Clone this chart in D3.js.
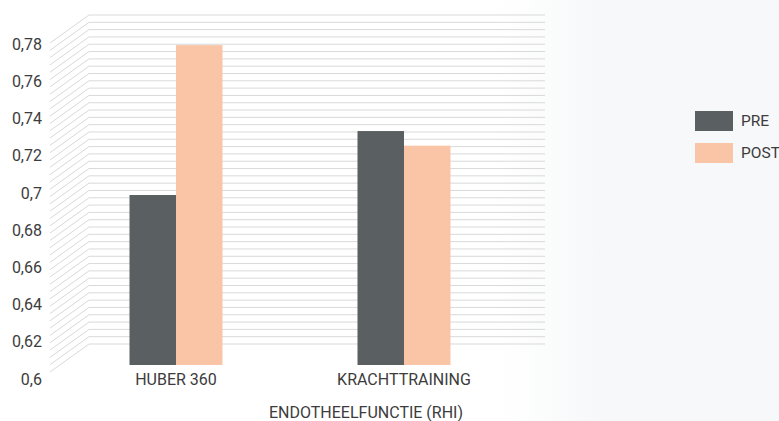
<!DOCTYPE html>
<html><head><meta charset="utf-8">
<script src="https://cdn.jsdelivr.net/npm/d3@7"></script>
<style>body{margin:0;background:#fff;overflow:hidden}</style></head>
<body><svg id="c" width="779" height="421"></svg>
<script>
const categories = ["HUBER 360", "KRACHTTRAINING"];
const seriesNames = ["PRE", "POST"];
const preValues = [0.693, 0.728];
const postValues = [0.775, 0.72];
const tickValues = [0.6, 0.62, 0.64, 0.66, 0.68, 0.7, 0.72, 0.74, 0.76, 0.78];
const tickLabels = ["0,6", "0,62", "0,64", "0,66", "0,68", "0,7", "0,72", "0,74", "0,76", "0,78"];
const gridValues = d3.range(0, 46).map(i => +(0.6 + i * 0.004).toFixed(3));
const axisTitle = "ENDOTHEELFUNCTIE (RHI)";
const colors = ["#5a5f61", "#f9c5a6"];

const svg = d3.select("#c");
const font = "Roboto, 'Noto Sans', sans-serif";
const textColor = "#3c3c3c";

// background gradient (white -> light grey on right)
const defs = svg.append("defs");
const grad = defs.append("linearGradient").attr("id", "bg").attr("x1", "0").attr("x2", "1").attr("y1", "0").attr("y2", "0");
grad.append("stop").attr("offset", 500 / 779).attr("stop-color", "#ffffff");
grad.append("stop").attr("offset", 600 / 779).attr("stop-color", "#f7f8f9");
grad.append("stop").attr("offset", 1).attr("stop-color", "#f7f8f9");
svg.append("rect").attr("width", 779).attr("height", 421).attr("fill", "url(#bg)");

// 3D projection: front plane y, back wall offset
const yFront = d3.scaleLinear().domain([0.6, 0.78]).range([372, 43]);
const depthX = 39, depthY = -28;
const barDX = 12, barDY = -7;
const xFront = d3.scaleBand().domain(categories).range([50, 506]);
const xBack0 = 50 + depthX, xBack1 = 545;

// gridlines (side diagonal + back wall)
const grid = svg.append("g").attr("fill", "none").attr("stroke", "#d9d9d9").attr("stroke-width", 1);
grid.selectAll("path").data(gridValues).join("path")
  .attr("d", v => {
    const yf = yFront(v);
    return `M50,${yf}L${xBack0},${yf + depthY}L${xBack1},${yf + depthY}`;
  });

// y axis labels
const yLabel = d3.scaleLinear().domain([0.6, 0.78]).range([379, 44]);
const yAxis = d3.axisLeft(yLabel).tickValues(tickValues)
  .tickFormat((d, i) => tickLabels[i]).tickSize(0).tickPadding(4);
const gy = svg.append("g").attr("transform", "translate(46,0)").call(yAxis);
gy.select(".domain").remove();
gy.selectAll("text").attr("font-family", font).attr("font-size", 16).attr("fill", textColor);

// bars
const x1 = d3.scaleBand().domain(seriesNames).range([-46.5, 46.5]);
const series = [preValues, postValues];
const barBase = yFront(0.6) + barDY;
seriesNames.forEach((s, si) => {
  svg.append("g").selectAll("rect").data(categories).join("rect")
    .attr("x", c => xFront(c) + xFront.bandwidth() / 2 + barDX + x1(s))
    .attr("width", x1.bandwidth())
    .attr("y", (c, i) => yFront(series[si][i]) + barDY)
    .attr("height", (c, i) => barBase - (yFront(series[si][i]) + barDY))
    .attr("fill", colors[si]);
});

// x axis labels
const xAxis = d3.axisBottom(xFront).tickSize(0).tickPadding(0);
const gx = svg.append("g").attr("transform", `translate(${barDX},379)`).call(xAxis);
gx.select(".domain").remove();
gx.selectAll("text").attr("dy", null).attr("dominant-baseline", "central")
  .attr("font-family", font).attr("font-size", 16).attr("fill", textColor);

// axis title
svg.append("text").attr("x", 366).attr("y", 412).attr("text-anchor", "middle")
  .attr("dominant-baseline", "central").attr("font-family", font).attr("font-size", 16)
  .attr("fill", textColor).text(axisTitle);

// legend
const lg = svg.append("g").attr("transform", "translate(695,111)");
seriesNames.forEach((s, i) => {
  lg.append("rect").attr("x", 0).attr("y", i * 32).attr("width", 38).attr("height", 20).attr("fill", colors[i]);
  lg.append("text").attr("x", 46).attr("y", i * 32 + 10).attr("dominant-baseline", "central")
    .attr("font-family", font).attr("font-size", 15.5).attr("fill", textColor).text(s);
});
</script>
</body></html>
